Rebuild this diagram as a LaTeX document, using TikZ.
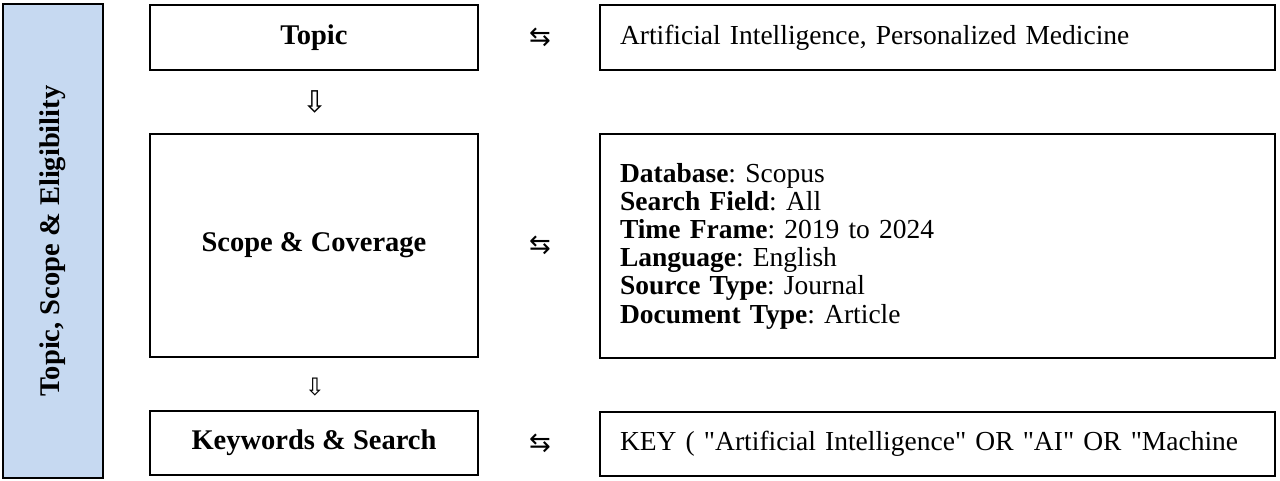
\documentclass[tikz,border=0pt]{standalone}
\usepackage{fontspec}
\setmainfont{Liberation Serif}
\newfontfamily\plainserif{Liberation Serif}
\newfontfamily\symfont{DejaVu Sans}
\definecolor{sideblue}{RGB}{198,217,241}
\tikzset{
  box/.style={draw, line width=2.8pt, font=\fontsize{27.5}{28.2}\selectfont},
  lbox/.style={box, minimum width=328pt, font=\fontsize{28.5}{30}\selectfont\bfseries},
  rbox/.style={box, minimum width=675pt, text width=635pt, inner xsep=20pt, align=left},
  sym/.style={inner sep=0pt, font=\symfont\fontsize{26}{26}\selectfont},
}

\begin{document}
\frenchspacing
\begin{tikzpicture}[x=1pt,y=1pt]
  \useasboundingbox (0,0) rectangle (1280,481);
  % side bar
  \node[box, fill=sideblue, rotate=90, minimum width=474pt, minimum height=100pt,
        font=\fontsize{28.5}{30}\selectfont\bfseries] (side) at (53,240) {Topic, Scope \& Eligibility};
  % left column
  \node[lbox, minimum height=65pt]  (topic) at (314,443.5) {Topic};
  \node[lbox, minimum height=223pt] (scope) at (314,235.5) {Scope \& Coverage};
  \node[lbox, minimum height=64pt]  (keys)  at (314,38)    {Keywords \& Search};
  % right column
  \node[rbox, minimum height=65pt]  (topicR) at (937.5,443.5) {Artificial Intelligence, Personalized Medicine};
  \node[rbox, minimum height=224pt] (scopeR) at (937.5,235)   {\textbf{Database}: Scopus\\
    \textbf{Search Field}: All\\
    \textbf{Time Frame}: 2019 to 2024\\
    \textbf{Language}: English\\
    \textbf{Source Type}: Journal\\
    \textbf{Document Type}: Article};
  \node[rbox, minimum height=64pt]  (keysR)  at (937.5,37)    {\plainserif KEY ( "Artificial Intelligence" OR "AI" OR "Machine};
  % arrows
  \node[sym] (t2r) at (540,443.5) {⇆};
  \node[sym] (s2r) at (540,235.5) {⇆};
  \node[sym] (k2r) at (540,38)    {⇆};
  \node[sym, font=\symfont\fontsize{30}{30}\selectfont] (t2s) at (315,379) {⇩};
  \node[sym, font=\symfont\fontsize{24}{24}\selectfont] (s2k) at (315,94)  {⇩};
\end{tikzpicture}
\end{document}
